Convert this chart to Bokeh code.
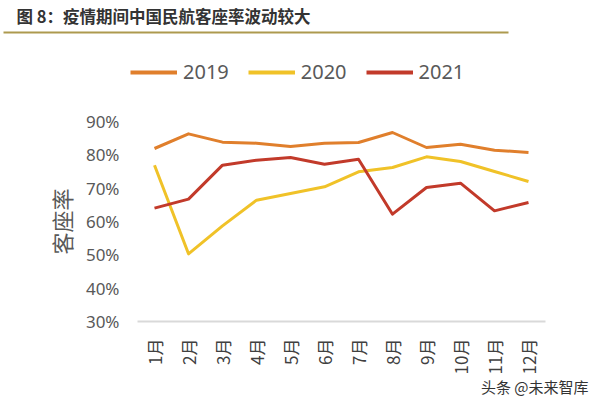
from math import pi
from bokeh.plotting import figure
from bokeh.layouts import column
from bokeh.models import (FactorRange, Range1d, FixedTicker, PrintfTickFormatter,
                          Label, Legend, LegendItem, BoxAnnotation, Title)
from bokeh.embed import file_html
from bokeh.resources import INLINE

months = ["1月", "2月", "3月", "4月", "5月", "6月", "7月", "8月", "9月", "10月", "11月", "12月"]
y2019 = [81.9, 86.3, 83.8, 83.5, 82.5, 83.5, 83.7, 86.7, 82.2, 83.2, 81.4, 80.7]
y2020 = [76.9, 50.3, 58.7, 66.4, 68.4, 70.4, 74.9, 76.2, 79.4, 78.0, 75.0, 72.0]
y2021 = [64.0, 66.7, 76.9, 78.4, 79.2, 77.2, 78.7, 62.2, 70.2, 71.5, 63.2, 65.7]
y_ticks = [30, 40, 50, 60, 70, 80, 90]
series_names = ["2019", "2020", "2021"]
colors = ["#E07F2C", "#F0C228", "#C23A2A"]
title_text = "图 8：疫情期间中国民航客座率波动较大"
y_label = "客座率"
watermark = "头条 @未来智库"

CJK = "Noto Sans CJK SC"
NAN = float("nan")

HEAD_H = 108

# ---- header figure: title, rule, legend ----
head = figure(width=600, height=HEAD_H, x_range=Range1d(0, 600), y_range=Range1d(HEAD_H, 0),
              output_backend="svg", toolbar_location=None, frame_align=False,
              min_border=0, min_border_left=0, min_border_right=0,
              min_border_top=0, min_border_bottom=0)
head.axis.visible = False
head.grid.visible = False
head.outline_line_color = None
head.background_fill_color = "white"
head.border_fill_color = "white"

head.add_layout(Label(x=16, y=15, text=title_text, text_font=CJK, text_font_size="16.5px",
                      text_font_style="bold", text_color="#333333",
                      text_baseline="middle", text_align="left"))
head.add_layout(BoxAnnotation(left=3, right=508, top=31, bottom=33,
                              fill_color="#AD9A4E", fill_alpha=1, line_color=None))

handles = []
for name, c in zip(series_names, colors):
    r = head.line(x=[NAN], y=[NAN], line_color=c, line_width=4)
    handles.append((name, r))
legend = Legend(items=[LegendItem(label=n, renderers=[r]) for n, r in handles],
                orientation="horizontal", location=(130, 23),
                border_line_color=None, background_fill_alpha=0,
                padding=0, margin=0, spacing=19, label_standoff=6,
                glyph_width=47, glyph_height=20, label_height=20,
                label_text_font="Noto Sans", label_text_font_size="20px",
                label_text_color="#595959")
head.add_layout(legend, "center")

# ---- main chart ----
p = figure(width=600, height=403 - HEAD_H, x_range=FactorRange(*months), y_range=Range1d(30, 90),
           output_backend="svg", toolbar_location=None, frame_align=False,
           min_border_left=137, min_border_right=55, min_border_top=121 - HEAD_H,
           min_border_bottom=82)
p.outline_line_color = None
p.xgrid.grid_line_color = None
p.ygrid.grid_line_color = None
p.background_fill_color = "white"
p.border_fill_color = "white"

for name, vals, c in zip(series_names, [y2019, y2020, y2021], colors):
    p.line(months, vals, line_color=c, line_width=3, line_join="round")

p.yaxis.ticker = FixedTicker(ticks=y_ticks)
p.yaxis.formatter = PrintfTickFormatter(format="%d%%")
p.yaxis.axis_line_color = None
p.yaxis.major_tick_line_color = None
p.yaxis.minor_tick_line_color = None
p.yaxis.major_label_text_font = "Noto Sans"
p.yaxis.major_label_text_font_size = "17px"
p.yaxis.major_label_text_color = "#595959"
p.yaxis.major_label_standoff = 12
p.yaxis.axis_label = y_label
p.yaxis.axis_label_text_font = CJK
p.yaxis.axis_label_text_font_size = "22px"
p.yaxis.axis_label_text_font_style = "normal"
p.yaxis.axis_label_text_color = "#595959"
p.yaxis.axis_label_standoff = 6

p.xaxis.axis_line_color = "#D9D9D9"
p.xaxis.axis_line_width = 2
p.xaxis.major_tick_line_color = None
p.xaxis.minor_tick_line_color = None
p.xaxis.major_label_orientation = pi / 2
p.xaxis.major_label_text_font = CJK
p.xaxis.major_label_text_font_size = "17px"
p.xaxis.major_label_text_color = "#404040"
p.xaxis.major_label_standoff = 11

p.add_layout(Title(text=watermark, align="right", offset=-43, standoff=-7,
                   text_font=CJK, text_font_size="15px", text_font_style="normal",
                   text_color="#333333"), "below")

layout = column(head, p, spacing=0)
open("out.html", "w").write(file_html(layout, INLINE))
